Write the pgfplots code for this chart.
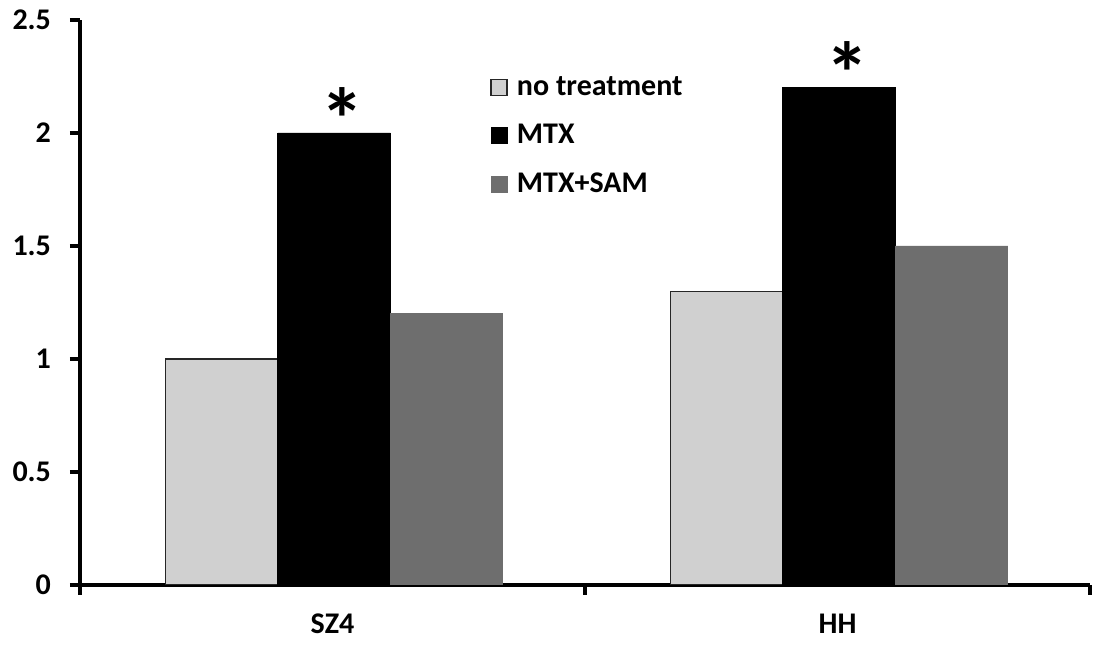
\documentclass[border=0pt]{standalone}
\usepackage{pgfplots}
\pgfplotsset{compat=1.18}
\usepackage{fontspec}
\setmainfont{Carlito}
\definecolor{lgray}{HTML}{D0D0D0}
\definecolor{dgray}{HTML}{6E6E6E}
\begin{document}
\begin{tikzpicture}
\begin{axis}[
  at={(0,0)}, anchor=south west,
  width=505pt, height=282.5pt, scale only axis,
  xmin=0, xmax=2, ymin=0, ymax=2.5,
  axis x line*=bottom, axis y line*=left,
  axis line style={line width=1.6pt, black},
  tick style={line width=1.6pt, black},
  tick align=outside,
  major tick length=5pt,
  xtick={0,1,2}, xticklabels={},
  extra x ticks={0.5,1.5},
  extra x tick labels={SZ4,HH},
  extra x tick style={major tick length=0pt, tick label style={yshift=-11pt}},
  ytick={0,0.5,1,1.5,2,2.5},
  yticklabels={0,0.5,1,1.5,2,2.5},
  yticklabel style={xshift=-6pt},
  ticklabel style={font=\fontsize{15pt}{18pt}\selectfont\bfseries},
  /pgf/number format/assume math mode=true,
  ybar, bar width=0.2228,
  legend style={draw=none, fill=none, at={(0.40,0.915)}, anchor=north west,
    font=\fontsize{15pt}{18pt}\selectfont\bfseries, row sep=9pt,
    cells={anchor=west}},
  legend image code/.code={\draw[#1] (0pt,-4pt) rectangle (8pt,4pt);\path[draw=none,fill=none] (0pt,0pt) -- (11pt,0pt);},
]
\addplot[fill=lgray, draw=black!85, line width=0.6pt, bar shift=-0.2228]
  coordinates {(0.503,1.0) (1.503,1.3)};
\addplot[fill=black, draw=black, line width=0.3pt, bar shift=0,
  nodes near coords={*},
  every node near coord/.append style={font=\fontsize{44pt}{44pt}\selectfont\bfseries, xshift=4pt, yshift=-12pt}]
  coordinates {(0.503,2.0) (1.503,2.2)};
\addplot[fill=dgray, draw=dgray, line width=0.3pt, bar shift=0.2228]
  coordinates {(0.503,1.2) (1.503,1.5)};
\legend{no treatment, MTX, MTX+SAM}
\end{axis}
\pgfresetboundingbox
\path[use as bounding box] (-40pt,-31pt) rectangle (511.5pt,292.5pt);
\end{tikzpicture}
\end{document}
